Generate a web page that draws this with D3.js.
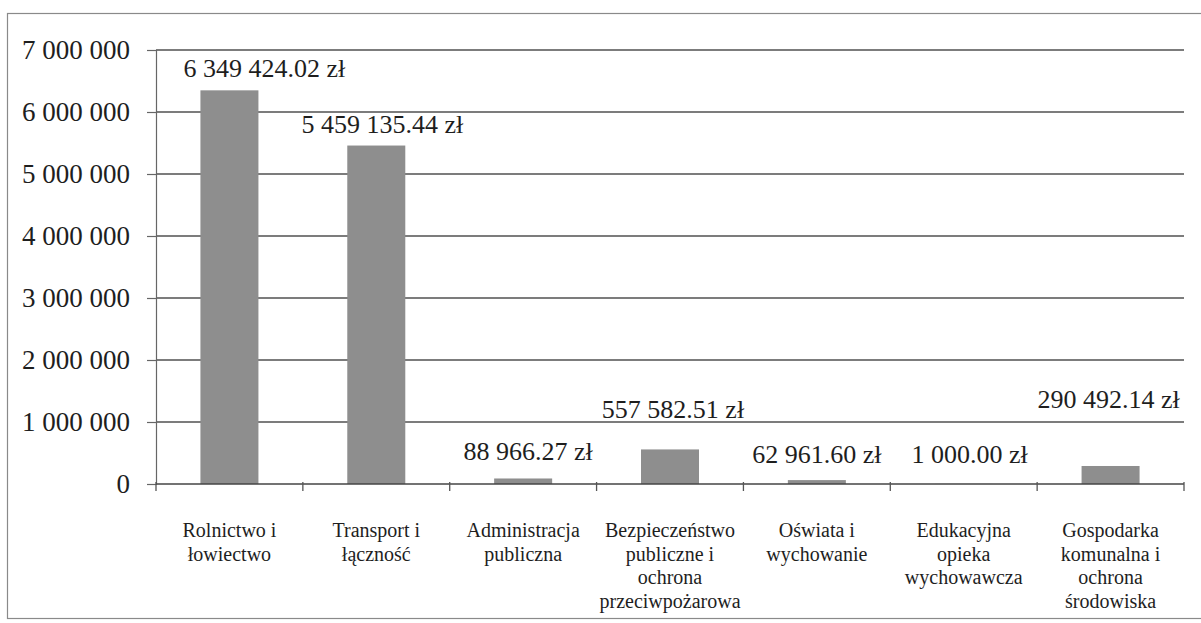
<!DOCTYPE html>
<html>
<head>
<meta charset="utf-8" />
<title>Wydatki wg działów</title>
<style>
html, body {
	margin: 0px;
	padding: 0px;
	background: #fff;
}
svg text {
	font-family: "Liberation Serif", "Times New Roman", Tinos, "DejaVu Serif", serif;
	fill: #1e1e1e;
}
</style>
</head>
<body>

<div id="chart"></div>

<script src="https://d3js.org/d3.v7.min.js"></script>
<script>

// dane
var categories = [
	["Rolnictwo i", "łowiectwo"],
	["Transport i", "łączność"],
	["Administracja", "publiczna"],
	["Bezpieczeństwo", "publiczne i", "ochrona", "przeciwpożarowa"],
	["Oświata i", "wychowanie"],
	["Edukacyjna", "opieka", "wychowawcza"],
	["Gospodarka", "komunalna i", "ochrona", "środowiska"]
];
var values = [6349424.02, 5459135.44, 88966.27, 557582.51, 62961.60, 1000.00, 290492.14];
var yTicks = [0, 1000000, 2000000, 3000000, 4000000, 5000000, 6000000, 7000000];

// etykiety danych były ręcznie przesunięte w oryginale (px)
var labelNudge = [[35, -13], [6, -13], [5, -18], [3, -31], [0, -17], [6, -21], [-2, -58]];

var W = 1201, H = 623;
var plot = {left: 156, right: 1184, top: 50, bottom: 484};

var svg = d3.select("#chart").append("svg")
	.attr("width", W)
	.attr("height", H);

// ramka (prawa krawędź poza kadrem)
svg.append("rect")
	.attr("x", 7.5).attr("y", 13.5)
	.attr("width", 1210).attr("height", 605)
	.attr("fill", "none")
	.attr("stroke", "#8a8a8a")
	.attr("stroke-width", 1.2);

var pl = d3.formatLocale({decimal: ".", thousands: "\u00a0", grouping: [3], currency: ["", " zł"]});
var fmtTick = pl.format(",");
var fmtVal = pl.format(",.2f");

var x = d3.scaleBand()
	.domain(d3.range(values.length))
	.range([plot.left, plot.right])
	.paddingInner(0.605)
	.paddingOuter(0.3025);

var y = d3.scaleLinear()
	.domain([0, 7000000])
	.range([plot.bottom, plot.top]);

// linie siatki
svg.append("g").selectAll("line")
	.data(yTicks.slice(1))
	.enter().append("line")
		.attr("x1", plot.left).attr("x2", plot.right)
		.attr("y1", function(d){ return y(d); })
		.attr("y2", function(d){ return y(d); })
		.attr("stroke", "#505050")
		.attr("stroke-width", 1.4);

// oś Y
var yAxis = svg.append("g")
	.attr("transform", "translate(" + plot.left + ",0)")
	.call(d3.axisLeft(y).tickValues(yTicks).tickFormat(fmtTick).tickSize(9).tickPadding(17));
yAxis.attr("font-family", null);
yAxis.select(".domain").attr("stroke", "#666").attr("stroke-width", 1.2);
yAxis.selectAll(".tick line").attr("stroke", "#666").attr("stroke-width", 1.2);
yAxis.selectAll("text")
	.style("font-size", "27px")
	.attr("fill", "#1e1e1e");

// słupki
svg.append("g").selectAll("rect")
	.data(values)
	.enter().append("rect")
		.attr("x", function(d, i){ return x(i); })
		.attr("y", function(d){ return y(d); })
		.attr("width", x.bandwidth())
		.attr("height", function(d){ return y(0) - y(d); })
		.attr("fill", "#8e8e8e");

// oś X
svg.append("line")
	.attr("x1", plot.left).attr("x2", plot.right)
	.attr("y1", y(0)).attr("y2", y(0))
	.attr("stroke", "#444")
	.attr("stroke-width", 1.5);

svg.append("g").selectAll("line")
	.data(d3.range(values.length + 1))
	.enter().append("line")
		.attr("x1", function(i){ return plot.left + i * x.step(); })
		.attr("x2", function(i){ return plot.left + i * x.step(); })
		.attr("y1", y(0) - 2).attr("y2", y(0) + 7)
		.attr("stroke", "#555")
		.attr("stroke-width", 1.3);

// etykiety kategorii
var cat = svg.append("g").selectAll("text")
	.data(categories)
	.enter().append("text")
		.attr("text-anchor", "middle")
		.style("font-size", "20px")
		.attr("transform", function(d, i){ return "translate(" + (x(i) + x.bandwidth() / 2) + ",537)"; });
cat.selectAll("tspan")
	.data(function(d){ return d; })
	.enter().append("tspan")
		.attr("x", 0)
		.attr("y", function(d, j){ return j * 23.5; })
		.text(function(d){ return d; });

// etykiety wartości
svg.append("g").selectAll("text")
	.data(values)
	.enter().append("text")
		.attr("text-anchor", "middle")
		.style("font-size", "26px")
		.attr("x", function(d, i){ return x(i) + x.bandwidth() / 2 + labelNudge[i][0]; })
		.attr("y", function(d, i){ return y(d) + labelNudge[i][1]; })
		.text(function(d){ return fmtVal(d) + " zł"; });

</script>
</body>
</html>
